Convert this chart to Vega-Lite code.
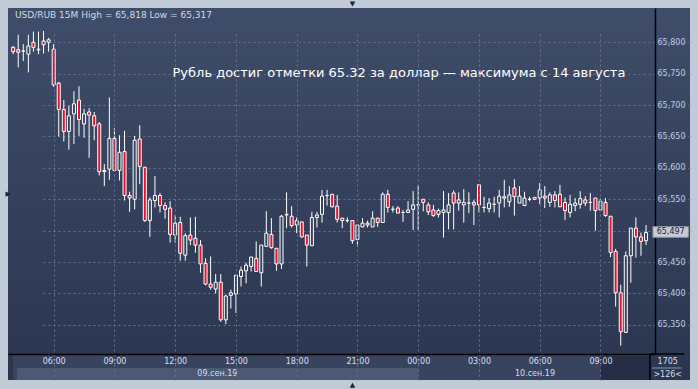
{
"$schema": "https://vega.github.io/schema/vega-lite/v6.json",
"width": 682, "height": 372,
"autosize": {"type": "none"},
"padding": {"left": 8, "top": 8, "right": 8, "bottom": 9},
"background": "#c1cbd8",
"config": {
  "font": "DejaVu Sans",
  "view": {"stroke": null, "fill": {"gradient": "linear", "x1": 0, "y1": 0, "x2": 0, "y2": 1, "stops": [{"offset": 0, "color": "#3f4d6a"}, {"offset": 1, "color": "#2b354f"}]}},
  "axis": {"labelFont": "DejaVu Sans", "labelFontSize": 8, "ticks": false, "domainColor": "#000000", "domainWidth": 1.5, "gridColor": "#66728e", "gridOpacity": 1, "gridDash": [2, 3], "gridWidth": 1}
},
"datasets": {
  "candles": [
{"t":"2019-09-09T04:00Z","o":65.792,"h":65.794,"l":65.781,"c":65.785},
{"t":"2019-09-09T04:15Z","o":65.788,"h":65.812,"l":65.760,"c":65.784},
{"t":"2019-09-09T04:30Z","o":65.786,"h":65.797,"l":65.770,"c":65.786},
{"t":"2019-09-09T04:45Z","o":65.781,"h":65.812,"l":65.752,"c":65.794},
{"t":"2019-09-09T05:00Z","o":65.800,"h":65.817,"l":65.785,"c":65.792},
{"t":"2019-09-09T05:15Z","o":65.788,"h":65.817,"l":65.781,"c":65.789},
{"t":"2019-09-09T05:30Z","o":65.802,"h":65.818,"l":65.782,"c":65.796},
{"t":"2019-09-09T05:45Z","o":65.800,"h":65.807,"l":65.785,"c":65.804},
{"t":"2019-09-09T06:00Z","o":65.789,"h":65.797,"l":65.729,"c":65.732},
{"t":"2019-09-09T06:15Z","o":65.735,"h":65.737,"l":65.650,"c":65.693},
{"t":"2019-09-09T06:30Z","o":65.693,"h":65.708,"l":65.642,"c":65.658},
{"t":"2019-09-09T06:45Z","o":65.658,"h":65.699,"l":65.629,"c":65.683},
{"t":"2019-09-09T07:00Z","o":65.686,"h":65.722,"l":65.638,"c":65.702},
{"t":"2019-09-09T07:15Z","o":65.708,"h":65.730,"l":65.651,"c":65.677},
{"t":"2019-09-09T07:30Z","o":65.670,"h":65.694,"l":65.648,"c":65.686},
{"t":"2019-09-09T07:45Z","o":65.689,"h":65.695,"l":65.616,"c":65.684},
{"t":"2019-09-09T08:00Z","o":65.683,"h":65.689,"l":65.644,"c":65.667},
{"t":"2019-09-09T08:15Z","o":65.670,"h":65.673,"l":65.588,"c":65.594},
{"t":"2019-09-09T08:30Z","o":65.594,"h":65.606,"l":65.571,"c":65.596},
{"t":"2019-09-09T08:45Z","o":65.598,"h":65.712,"l":65.581,"c":65.647},
{"t":"2019-09-09T09:00Z","o":65.647,"h":65.663,"l":65.594,"c":65.596},
{"t":"2019-09-09T09:15Z","o":65.596,"h":65.652,"l":65.580,"c":65.625},
{"t":"2019-09-09T09:30Z","o":65.626,"h":65.659,"l":65.548,"c":65.556},
{"t":"2019-09-09T09:45Z","o":65.556,"h":65.562,"l":65.530,"c":65.552},
{"t":"2019-09-09T10:00Z","o":65.550,"h":65.651,"l":65.534,"c":65.644},
{"t":"2019-09-09T10:15Z","o":65.646,"h":65.668,"l":65.574,"c":65.602},
{"t":"2019-09-09T10:30Z","o":65.601,"h":65.601,"l":65.514,"c":65.516},
{"t":"2019-09-09T10:45Z","o":65.516,"h":65.553,"l":65.490,"c":65.549},
{"t":"2019-09-09T11:00Z","o":65.548,"h":65.587,"l":65.537,"c":65.556},
{"t":"2019-09-09T11:15Z","o":65.556,"h":65.560,"l":65.529,"c":65.540},
{"t":"2019-09-09T11:30Z","o":65.540,"h":65.545,"l":65.519,"c":65.534},
{"t":"2019-09-09T11:45Z","o":65.536,"h":65.547,"l":65.481,"c":65.494},
{"t":"2019-09-09T12:00Z","o":65.493,"h":65.525,"l":65.481,"c":65.512},
{"t":"2019-09-09T12:15Z","o":65.513,"h":65.522,"l":65.452,"c":65.464},
{"t":"2019-09-09T12:30Z","o":65.461,"h":65.496,"l":65.452,"c":65.492},
{"t":"2019-09-09T12:45Z","o":65.493,"h":65.521,"l":65.477,"c":65.485},
{"t":"2019-09-09T13:00Z","o":65.488,"h":65.522,"l":65.465,"c":65.477},
{"t":"2019-09-09T13:15Z","o":65.477,"h":65.485,"l":65.433,"c":65.447},
{"t":"2019-09-09T13:30Z","o":65.448,"h":65.456,"l":65.413,"c":65.415},
{"t":"2019-09-09T13:45Z","o":65.415,"h":65.459,"l":65.406,"c":65.410},
{"t":"2019-09-09T14:00Z","o":65.407,"h":65.431,"l":65.400,"c":65.418},
{"t":"2019-09-09T14:15Z","o":65.418,"h":65.431,"l":65.355,"c":65.358},
{"t":"2019-09-09T14:30Z","o":65.358,"h":65.398,"l":65.351,"c":65.396},
{"t":"2019-09-09T14:45Z","o":65.397,"h":65.406,"l":65.376,"c":65.401},
{"t":"2019-09-09T15:00Z","o":65.399,"h":65.429,"l":65.369,"c":65.429},
{"t":"2019-09-09T15:15Z","o":65.427,"h":65.443,"l":65.411,"c":65.437},
{"t":"2019-09-09T15:30Z","o":65.436,"h":65.449,"l":65.416,"c":65.445},
{"t":"2019-09-09T15:45Z","o":65.443,"h":65.458,"l":65.435,"c":65.458},
{"t":"2019-09-09T16:00Z","o":65.456,"h":65.483,"l":65.435,"c":65.435},
{"t":"2019-09-09T16:15Z","o":65.433,"h":65.477,"l":65.411,"c":65.477},
{"t":"2019-09-09T16:30Z","o":65.475,"h":65.531,"l":65.474,"c":65.496},
{"t":"2019-09-09T16:45Z","o":65.494,"h":65.520,"l":65.471,"c":65.473},
{"t":"2019-09-09T17:00Z","o":65.472,"h":65.472,"l":65.436,"c":65.447},
{"t":"2019-09-09T17:15Z","o":65.447,"h":65.525,"l":65.439,"c":65.523},
{"t":"2019-09-09T17:30Z","o":65.525,"h":65.561,"l":65.504,"c":65.526},
{"t":"2019-09-09T17:45Z","o":65.523,"h":65.539,"l":65.505,"c":65.508},
{"t":"2019-09-09T18:00Z","o":65.509,"h":65.521,"l":65.496,"c":65.516},
{"t":"2019-09-09T18:15Z","o":65.514,"h":65.514,"l":65.489,"c":65.490},
{"t":"2019-09-09T18:30Z","o":65.493,"h":65.493,"l":65.443,"c":65.477},
{"t":"2019-09-09T18:45Z","o":65.476,"h":65.530,"l":65.476,"c":65.521},
{"t":"2019-09-09T19:00Z","o":65.521,"h":65.530,"l":65.505,"c":65.525},
{"t":"2019-09-09T19:15Z","o":65.526,"h":65.565,"l":65.513,"c":65.555},
{"t":"2019-09-09T19:30Z","o":65.556,"h":65.565,"l":65.540,"c":65.556},
{"t":"2019-09-09T19:45Z","o":65.558,"h":65.558,"l":65.537,"c":65.538},
{"t":"2019-09-09T20:00Z","o":65.539,"h":65.557,"l":65.513,"c":65.518},
{"t":"2019-09-09T20:15Z","o":65.520,"h":65.520,"l":65.504,"c":65.516},
{"t":"2019-09-09T20:30Z","o":65.516,"h":65.521,"l":65.513,"c":65.516},
{"t":"2019-09-09T20:45Z","o":65.516,"h":65.516,"l":65.479,"c":65.484},
{"t":"2019-09-09T21:00Z","o":65.486,"h":65.509,"l":65.474,"c":65.509},
{"t":"2019-09-09T21:15Z","o":65.506,"h":65.520,"l":65.506,"c":65.512},
{"t":"2019-09-09T21:30Z","o":65.512,"h":65.516,"l":65.505,"c":65.509},
{"t":"2019-09-09T21:45Z","o":65.506,"h":65.531,"l":65.506,"c":65.520},
{"t":"2019-09-09T22:00Z","o":65.520,"h":65.520,"l":65.506,"c":65.513},
{"t":"2019-09-09T22:15Z","o":65.513,"h":65.561,"l":65.513,"c":65.558},
{"t":"2019-09-09T22:30Z","o":65.558,"h":65.565,"l":65.529,"c":65.537},
{"t":"2019-09-09T22:45Z","o":65.534,"h":65.539,"l":65.529,"c":65.534},
{"t":"2019-09-09T23:00Z","o":65.536,"h":65.539,"l":65.528,"c":65.528},
{"t":"2019-09-09T23:15Z","o":65.529,"h":65.533,"l":65.514,"c":65.529},
{"t":"2019-09-09T23:30Z","o":65.529,"h":65.547,"l":65.529,"c":65.533},
{"t":"2019-09-09T23:45Z","o":65.534,"h":65.563,"l":65.501,"c":65.541},
{"t":"2019-09-10T00:00Z","o":65.541,"h":65.573,"l":65.501,"c":65.541},
{"t":"2019-09-10T00:15Z","o":65.550,"h":65.550,"l":65.531,"c":65.545},
{"t":"2019-09-10T00:30Z","o":65.541,"h":65.545,"l":65.525,"c":65.530},
{"t":"2019-09-10T00:45Z","o":65.533,"h":65.541,"l":65.522,"c":65.524},
{"t":"2019-09-10T01:00Z","o":65.526,"h":65.535,"l":65.521,"c":65.532},
{"t":"2019-09-10T01:15Z","o":65.529,"h":65.563,"l":65.489,"c":65.533},
{"t":"2019-09-10T01:30Z","o":65.529,"h":65.560,"l":65.502,"c":65.541},
{"t":"2019-09-10T01:45Z","o":65.560,"h":65.564,"l":65.502,"c":65.544},
{"t":"2019-09-10T02:00Z","o":65.544,"h":65.561,"l":65.532,"c":65.549},
{"t":"2019-09-10T02:15Z","o":65.541,"h":65.566,"l":65.513,"c":65.545},
{"t":"2019-09-10T02:30Z","o":65.544,"h":65.561,"l":65.528,"c":65.544},
{"t":"2019-09-10T02:45Z","o":65.545,"h":65.549,"l":65.509,"c":65.541},
{"t":"2019-09-10T03:00Z","o":65.573,"h":65.573,"l":65.529,"c":65.541},
{"t":"2019-09-10T03:15Z","o":65.537,"h":65.554,"l":65.529,"c":65.537},
{"t":"2019-09-10T03:30Z","o":65.535,"h":65.552,"l":65.529,"c":65.544},
{"t":"2019-09-10T03:45Z","o":65.542,"h":65.554,"l":65.529,"c":65.542},
{"t":"2019-09-10T04:00Z","o":65.544,"h":65.565,"l":65.521,"c":65.555},
{"t":"2019-09-10T04:15Z","o":65.554,"h":65.581,"l":65.537,"c":65.552},
{"t":"2019-09-10T04:30Z","o":65.546,"h":65.571,"l":65.538,"c":65.557},
{"t":"2019-09-10T04:45Z","o":65.568,"h":65.582,"l":65.524,"c":65.554},
{"t":"2019-09-10T05:00Z","o":65.544,"h":65.571,"l":65.544,"c":65.555},
{"t":"2019-09-10T05:15Z","o":65.540,"h":65.562,"l":65.540,"c":65.552},
{"t":"2019-09-10T05:30Z","o":65.550,"h":65.554,"l":65.547,"c":65.550},
{"t":"2019-09-10T05:45Z","o":65.553,"h":65.553,"l":65.550,"c":65.550},
{"t":"2019-09-10T06:00Z","o":65.552,"h":65.576,"l":65.542,"c":65.565},
{"t":"2019-09-10T06:15Z","o":65.555,"h":65.571,"l":65.536,"c":65.552},
{"t":"2019-09-10T06:30Z","o":65.545,"h":65.561,"l":65.538,"c":65.557},
{"t":"2019-09-10T06:45Z","o":65.557,"h":65.563,"l":65.537,"c":65.548},
{"t":"2019-09-10T07:00Z","o":65.558,"h":65.573,"l":65.538,"c":65.538},
{"t":"2019-09-10T07:15Z","o":65.545,"h":65.553,"l":65.517,"c":65.532},
{"t":"2019-09-10T07:30Z","o":65.529,"h":65.557,"l":65.521,"c":65.542},
{"t":"2019-09-10T07:45Z","o":65.540,"h":65.552,"l":65.531,"c":65.544},
{"t":"2019-09-10T08:00Z","o":65.542,"h":65.563,"l":65.535,"c":65.551},
{"t":"2019-09-10T08:15Z","o":65.549,"h":65.555,"l":65.539,"c":65.544},
{"t":"2019-09-10T08:30Z","o":65.545,"h":65.560,"l":65.532,"c":65.545},
{"t":"2019-09-10T08:45Z","o":65.552,"h":65.552,"l":65.500,"c":65.532},
{"t":"2019-09-10T09:00Z","o":65.533,"h":65.551,"l":65.532,"c":65.547},
{"t":"2019-09-10T09:15Z","o":65.545,"h":65.552,"l":65.522,"c":65.524},
{"t":"2019-09-10T09:30Z","o":65.523,"h":65.523,"l":65.458,"c":65.465},
{"t":"2019-09-10T09:45Z","o":65.467,"h":65.471,"l":65.379,"c":65.401},
{"t":"2019-09-10T10:00Z","o":65.401,"h":65.414,"l":65.317,"c":65.339},
{"t":"2019-09-10T10:15Z","o":65.338,"h":65.467,"l":65.338,"c":65.460},
{"t":"2019-09-10T10:30Z","o":65.460,"h":65.504,"l":65.417,"c":65.504},
{"t":"2019-09-10T10:45Z","o":65.504,"h":65.521,"l":65.457,"c":65.490},
{"t":"2019-09-10T11:00Z","o":65.490,"h":65.497,"l":65.460,"c":65.483},
{"t":"2019-09-10T11:15Z","o":65.484,"h":65.509,"l":65.477,"c":65.497}
  ]
},
"layer": [
  {"data": {"name": "candles"},
   "mark": {"type": "rule", "color": "#ffffff", "strokeWidth": 1, "clip": true},
   "encoding": {
     "x": {"field": "t", "type": "temporal",
       "scale": {"type": "utc", "domain": [{"year":2019,"month":9,"date":9,"hours":3,"minutes":59,"seconds":30,"utc":true}, {"year":2019,"month":9,"date":10,"hours":11,"minutes":26,"seconds":45,"utc":true}], "range": [0, 647]},
       "axis": {"title": null, "orient": "bottom", "offset": -26, "grid": true, "zindex": 1, "labelExpr": "utcFormat(datum.value, '%H:%M')", "labelColor": "#d6dff0", "labelPadding": 3, "labelFlush": false, "labelOverlap": false,
         "values": [{"year":2019,"month":9,"date":9,"hours":6,"utc":true},{"year":2019,"month":9,"date":9,"hours":9,"utc":true},{"year":2019,"month":9,"date":9,"hours":12,"utc":true},{"year":2019,"month":9,"date":9,"hours":15,"utc":true},{"year":2019,"month":9,"date":9,"hours":18,"utc":true},{"year":2019,"month":9,"date":9,"hours":21,"utc":true},{"year":2019,"month":9,"date":10,"hours":0,"utc":true},{"year":2019,"month":9,"date":10,"hours":3,"utc":true},{"year":2019,"month":9,"date":10,"hours":6,"utc":true},{"year":2019,"month":9,"date":10,"hours":9,"utc":true}]}},
     "y": {"field": "h", "type": "quantitative",
       "scale": {"domain": [65.3036, 65.8546], "range": [346, 0], "zero": false, "nice": false},
       "axis": {"title": null, "orient": "right", "offset": -35, "grid": true, "zindex": 0, "labelColor": "#bccbe3", "labelPadding": 2, "labelBaseline": "middle",
         "values": [65.35, 65.4, 65.45, 65.5, 65.55, 65.6, 65.65, 65.7, 65.75, 65.8],
         "labelExpr": "replace(format(datum.value, '.3f'), '.', ',')"}},
     "y2": {"field": "l"}}},
  {"data": {"values": [{}]}, "mark": {"type": "rect", "fill": "#38445f"},
   "encoding": {
     "x": {"datum": {"year":2019,"month":9,"date":9,"hours":3,"minutes":59,"seconds":30,"utc":true}, "type": "temporal"},
     "x2": {"datum": {"year":2019,"month":9,"date":10,"hours":11,"minutes":26,"seconds":45,"utc":true}},
     "y": {"datum": 65.3036, "type": "quantitative"},
     "y2": {"datum": 65.2622}}},
  {"data": {"values": [{}]}, "mark": {"type": "rect", "fill": "#4b5975"},
   "encoding": {
     "x": {"datum": {"year":2019,"month":9,"date":9,"hours":4,"minutes":11,"utc":true}, "type": "temporal"},
     "x2": {"datum": {"year":2019,"month":9,"date":10,"hours":0,"minutes":0,"utc":true}},
     "y": {"datum": 65.2813, "type": "quantitative"},
     "y2": {"datum": 65.2622}}},
  {"data": {"values": [{}]}, "mark": {"type": "rect", "fill": "#252d44"},
   "encoding": {
     "x": {"datum": {"year":2019,"month":9,"date":10,"hours":9,"minutes":0,"utc":true}, "type": "temporal"},
     "x2": {"datum": {"year":2019,"month":9,"date":10,"hours":11,"minutes":26,"seconds":45,"utc":true}},
     "y": {"datum": 65.3004, "type": "quantitative"},
     "y2": {"datum": 65.2622}}},
  {"data": {"name": "candles"},
   "mark": {"type": "bar", "size": 3, "stroke": "#ffffff", "strokeWidth": 1, "clip": true},
   "encoding": {
     "x": {"field": "t", "type": "temporal"},
     "y": {"field": "o", "type": "quantitative"},
     "y2": {"field": "c"},
     "fill": {"condition": {"test": "datum.c < datum.o", "value": "#e5112f"}, "value": "#37445f"}}},
  {"data": {"values": [{"t": "2019-09-09T14:05Z", "label": "09.сен.19"}, {"t": "2019-09-10T05:46Z", "label": "10.сен.19"}]},
   "mark": {"type": "text", "fontSize": 8, "color": "#d6dff0", "baseline": "middle", "align": "center"},
   "encoding": {"x": {"field": "t", "type": "temporal"}, "y": {"datum": 65.2717, "type": "quantitative"}, "text": {"field": "label"}}},
  {"data": {"values": [{}]},
   "mark": {"type": "text", "fontSize": 13, "color": "#ffffff", "baseline": "middle", "align": "center", "text": "Рубль достиг отметки 65.32 за доллар — максимума с 14 августа"},
   "encoding": {"x": {"datum": {"year":2019,"month":9,"date":9,"hours":23,"minutes":3,"utc":true}, "type": "temporal"}, "y": {"datum": 65.7511, "type": "quantitative"}}},
  {"data": {"values": [{}]},
   "mark": {"type": "text", "fontSize": 9, "color": "#d2dae8", "baseline": "middle", "align": "left", "text": "USD/RUB 15M High = 65,818 Low = 65,317"},
   "encoding": {"x": {"datum": {"year":2019,"month":9,"date":9,"hours":4,"minutes":5,"seconds":20,"utc":true}, "type": "temporal"}, "y": {"datum": 65.8439, "type": "quantitative"}}},
  {"data": {"values": [{}]}, "mark": {"type": "rect", "fill": "#c7cbd3", "stroke": "#8d95a5", "strokeWidth": 1},
   "encoding": {
     "x": {"datum": {"year":2019,"month":9,"date":10,"hours":11,"minutes":35,"seconds":30,"utc":true}, "type": "temporal"},
     "x2": {"datum": {"year":2019,"month":9,"date":10,"hours":13,"minutes":20,"seconds":30,"utc":true}},
     "y": {"datum": 65.5063, "type": "quantitative"},
     "y2": {"datum": 65.4894}}},
  {"data": {"values": [{}]},
   "mark": {"type": "text", "fontSize": 8, "color": "#1c2333", "baseline": "middle", "align": "center", "text": "65,497"},
   "encoding": {"x": {"datum": {"year":2019,"month":9,"date":10,"hours":12,"minutes":28,"utc":true}, "type": "temporal"}, "y": {"datum": 65.4979, "type": "quantitative"}}},
  {"data": {"values": [{"label": "1705", "v": 65.2909}, {"label": ">126<", "v": 65.2702}]},
   "mark": {"type": "text", "fontSize": 8, "color": "#d6dff0", "baseline": "middle", "align": "center"},
   "encoding": {"x": {"datum": {"year":2019,"month":9,"date":10,"hours":12,"minutes":19,"seconds":15,"utc":true}, "type": "temporal"}, "y": {"field": "v", "type": "quantitative"}, "text": {"field": "label"}}},
  {"data": {"values": [{}]}, "mark": {"type": "rule", "color": "#8a96ac", "strokeWidth": 1},
   "encoding": {
     "x": {"datum": {"year":2019,"month":9,"date":10,"hours":11,"minutes":32,"seconds":35,"utc":true}, "type": "temporal"},
     "x2": {"datum": {"year":2019,"month":9,"date":10,"hours":13,"minutes":0,"utc":true}},
     "y": {"datum": 65.2813, "type": "quantitative"}}},
  {"data": {"values": [{}]}, "mark": {"type": "rule", "color": "#000000", "strokeWidth": 1.5},
   "encoding": {
     "x": {"datum": {"year":2019,"month":9,"date":10,"hours":11,"minutes":26,"seconds":45,"utc":true}, "type": "temporal"},
     "y": {"datum": 65.3036, "type": "quantitative"},
     "y2": {"datum": 65.2622}}},
  {"data": {"values": [{}]}, "mark": {"type": "rule", "color": "#000000", "strokeWidth": 1.5},
   "encoding": {
     "x": {"datum": {"year":2019,"month":9,"date":10,"hours":11,"minutes":26,"seconds":45,"utc":true}, "type": "temporal"},
     "x2": {"datum": {"year":2019,"month":9,"date":10,"hours":13,"minutes":8,"seconds":45,"utc":true}},
     "y": {"datum": 65.3036, "type": "quantitative"}}},
  {"data": {"values": [{"s": "▼", "t": "2019-09-09T20:45Z", "v": 65.8605}, {"s": "▲", "t": "2019-09-09T20:45Z", "v": 65.2545}, {"s": "▶", "t": "2019-09-09T03:45:30Z", "v": 65.5584}]},
   "mark": {"type": "text", "fontSize": 7, "color": "#1b2336", "baseline": "middle", "align": "center"},
   "encoding": {"x": {"field": "t", "type": "temporal"}, "y": {"field": "v", "type": "quantitative"}, "text": {"field": "s"}}}
]
}
